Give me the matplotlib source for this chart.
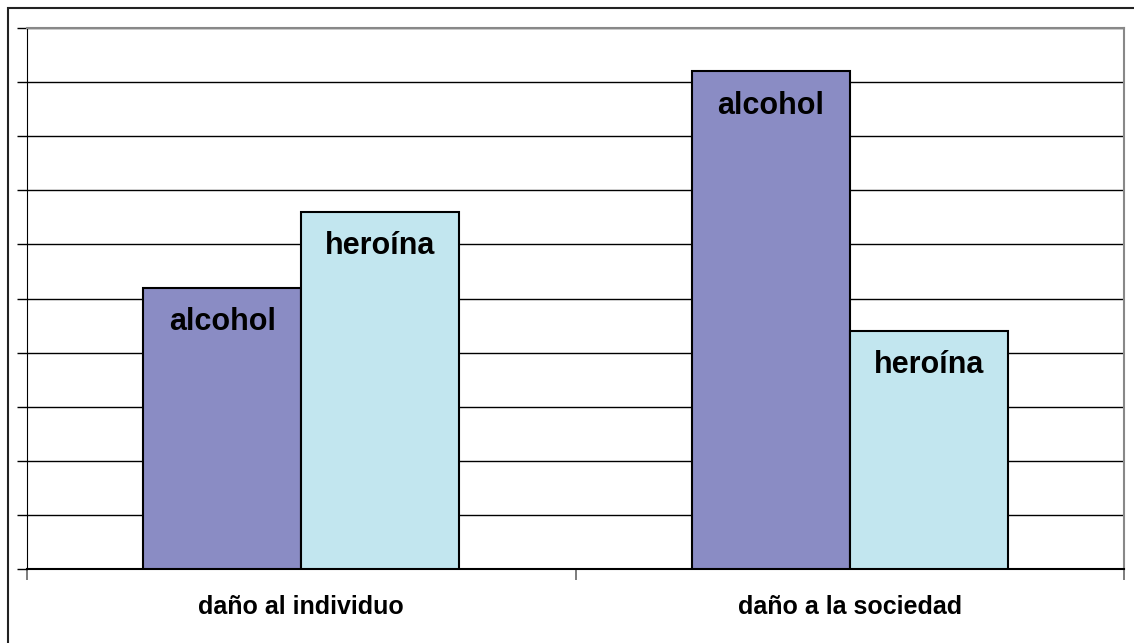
import numpy as np
import matplotlib.pyplot as plt
from matplotlib.patches import Rectangle

plt.rcParams['font.family'] = ['Liberation Sans', 'DejaVu Sans']

categories = ['daño al individuo', 'daño a la sociedad']
series = ['alcohol', 'heroína']
alcohol = [5.2, 9.2]
heroina = [6.6, 4.4]
colors = ['#8A8CC4', '#C2E6EF']

W, H = 1134, 643
fig = plt.figure(figsize=(W / 100, H / 100), dpi=100)
ax = fig.add_axes([27 / W, 1 - 569 / H, (1124 - 27) / W, (569 - 28) / H])

x = np.arange(len(categories))
bw = 0.288
for k, (vals, name) in enumerate([(alcohol, series[0]), (heroina, series[1])]):
    xs = x + (k - 0.5) * bw
    ax.bar(xs, vals, width=bw, color=colors[k], edgecolor='black', linewidth=1.5, zorder=3)
    for xi, v in zip(xs, vals):
        ax.annotate(name, (xi, v), xytext=(0, -14), textcoords='offset points',
                    ha='center', va='top', fontsize=22, fontweight='bold', zorder=4)

ax.set_xlim(-0.5, 1.5)
ax.set_ylim(0, 10)
ax.set_yticks(np.arange(0, 11, 1))
ax.set_yticklabels([])
ax.yaxis.grid(True, color='black', linewidth=1, zorder=0)
ax.tick_params(axis='y', direction='out', length=7, width=1, color='black')

ax.set_xticks(x)
ax.set_xticklabels(categories, fontsize=18, fontweight='bold')
ax.tick_params(axis='x', which='major', length=0, pad=19)
ax.set_xticks([-0.5, 0.5, 1.5], minor=True)
ax.tick_params(axis='x', which='minor', direction='out', length=8, width=1.2, color='#666666')

ax.spines['left'].set_color('black')
ax.spines['bottom'].set_color('black')
ax.spines['bottom'].set_linewidth(1.5)
ax.spines['top'].set_color('#888888')
ax.spines['right'].set_color('#888888')
ax.spines['top'].set_linewidth(1.5)
ax.spines['right'].set_linewidth(1.5)

fig.patches.append(Rectangle((8 / W, -0.1), 1.2, 1.1 - 8 / H, transform=fig.transFigure,
                             fill=False, edgecolor='#222222', linewidth=1.5, clip_on=False))

fig.savefig('out.png', dpi=100)
